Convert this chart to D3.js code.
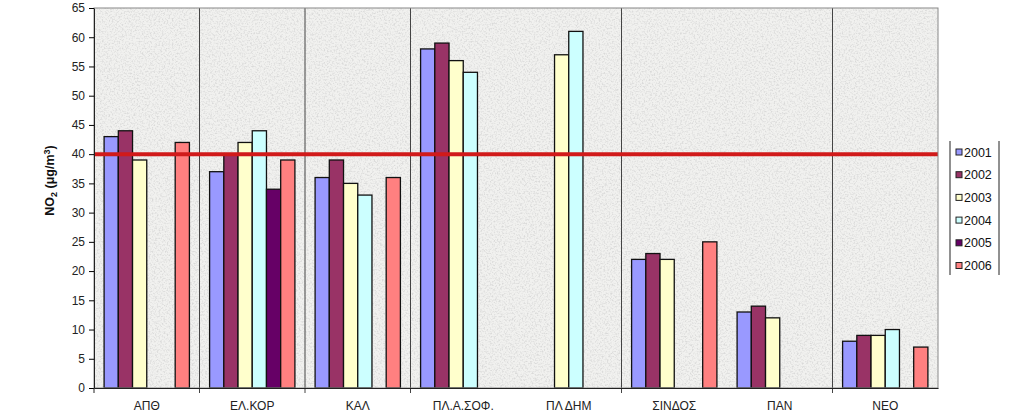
<!DOCTYPE html>
<html>
<head>
<meta charset="utf-8">
<script src="https://cdn.jsdelivr.net/npm/d3@7"></script>
<style>
  body { margin: 0; background: #fff; }
  text { font-family: "Liberation Sans", Arial, sans-serif; }
</style>
</head>
<body>
<div id="chart"></div>
<script>
// stations on the x axis
var stations = ["ΑΠΘ", "ΕΛ.ΚΟΡ", "ΚΑΛ", "ΠΛ.Α.ΣΟΦ.", "ΠΛ ΔΗΜ", "ΣΙΝΔΟΣ", "ΠΑΝ", "ΝΕΟ"];
var years = ["2001", "2002", "2003", "2004", "2005", "2006"];
// yearly NO2 means per station (null = no measurement)
var y2001 = [43, 37, 36, 58, null, 22, 13, 8];
var y2002 = [44, 40, 39, 59, null, 23, 14, 9];
var y2003 = [39, 42, 35, 56, 57, 22, 12, 9];
var y2004 = [null, 44, 33, 54, 61, null, null, 10];
var y2005 = [null, 34, null, null, null, null, null, null];
var y2006 = [42, 39, 36, null, null, 25, null, 7];
var yTicks = [0, 5, 10, 15, 20, 25, 30, 35, 40, 45, 50, 55, 60, 65];
var limitValue = 40;
var colors = ["#9999ff", "#993366", "#ffffcc", "#ccffff", "#660066", "#ff8080"];

var seriesValues = [y2001, y2002, y2003, y2004, y2005, y2006];

var margin = { top: 8, right: 85, bottom: 32, left: 94 },
    totalW = 1023, totalH = 420,
    width = totalW - margin.left - margin.right,
    height = totalH - margin.top - margin.bottom;

var svg = d3.select("#chart").append("svg")
    .attr("width", totalW)
    .attr("height", totalH);

// granite-ish texture for the plot area
var defs = svg.append("defs");
var filt = defs.append("filter").attr("id", "grain")
    .attr("x", 0).attr("y", 0).attr("width", "100%").attr("height", "100%");
filt.append("feTurbulence").attr("type", "fractalNoise")
    .attr("baseFrequency", 0.6).attr("numOctaves", 2).attr("seed", 7).attr("result", "n");
filt.append("feColorMatrix").attr("in", "n").attr("type", "matrix")
    .attr("values", "0 0 0 0 0.6  0 0 0 0 0.6  0 0 0 0 0.6  3 0 0 0 -1.35");

var g = svg.append("g")
    .attr("transform", "translate(" + margin.left + "," + margin.top + ")");

var x0 = d3.scaleBand().domain(stations).range([0, width]).paddingInner(0).paddingOuter(0);
var x1 = d3.scaleBand().domain(years).range([0, x0.bandwidth()]).paddingInner(0).paddingOuter(0.71);
var y = d3.scaleLinear().domain([0, 65]).range([height, 0]);

g.append("rect").attr("width", width).attr("height", height).attr("fill", "#f1f1ef");
g.append("rect").attr("width", width).attr("height", height).attr("filter", "url(#grain)").attr("opacity", 0.6);

// station separators (the original skips a couple of them)
var sepIdx = [1, 2, 3, 5, 7];
g.selectAll(".sep").data(sepIdx).enter().append("line")
    .attr("class", "sep")
    .attr("x1", function (d) { return x0(stations[d]); })
    .attr("x2", function (d) { return x0(stations[d]); })
    .attr("y1", 0).attr("y2", height + 5)
    .attr("stroke", "#444").attr("stroke-width", 1);

// bars
var groups = g.selectAll(".grp").data(stations).enter().append("g")
    .attr("transform", function (d) { return "translate(" + x0(d) + ",0)"; });

groups.selectAll("rect")
    .data(function (d, i) {
        return years.map(function (yr, k) { return { year: yr, k: k, v: seriesValues[k][i] }; })
            .filter(function (e) { return e.v != null; });
    })
    .enter().append("rect")
    .attr("x", function (d) { return x1(d.year); })
    .attr("y", function (d) { return y(d.v); })
    .attr("width", x1.bandwidth())
    .attr("height", function (d) { return height - y(d.v); })
    .attr("fill", function (d) { return colors[d.k]; })
    .attr("stroke", "#111")
    .attr("stroke-width", 1.3);

// limit line
g.append("line")
    .attr("x1", 0).attr("x2", width)
    .attr("y1", y(limitValue)).attr("y2", y(limitValue))
    .attr("stroke", "#d11a1a").attr("stroke-width", 4);

// plot frame
g.append("rect").attr("width", width).attr("height", height)
    .attr("fill", "none").attr("stroke", "#888").attr("stroke-width", 1);

// axes
var yAxis = g.append("g")
    .call(d3.axisLeft(y).tickValues(yTicks).tickSize(5).tickSizeOuter(0));
yAxis.select(".domain").attr("stroke", "#222");
yAxis.selectAll("text").attr("font-size", 12).attr("fill", "#222").attr("dx", "-1");

var xAxis = g.append("g").attr("transform", "translate(0," + height + ")")
    .call(d3.axisBottom(x0).tickSize(0).tickSizeOuter(0).tickPadding(13));
xAxis.select(".domain").attr("stroke", "#222");
xAxis.selectAll("text").attr("font-size", 12).attr("fill", "#222");
xAxis.append("line").attr("x1", 0).attr("x2", 0).attr("y1", 0).attr("y2", 5).attr("stroke", "#222");

// y axis title
var title = svg.append("text")
    .attr("transform", "translate(54," + (margin.top + y(35.5)) + ") rotate(-90)")
    .attr("text-anchor", "middle")
    .attr("font-size", 12.5).attr("font-weight", "bold").attr("fill", "#111");
title.append("tspan").text("NO");
title.append("tspan").attr("font-size", 9).attr("dy", 3).text("2");
title.append("tspan").attr("dy", -3).text(" (μg/m");
title.append("tspan").attr("font-size", 9).attr("dy", -4).text("3");
title.append("tspan").attr("dy", 4).text(")");

// legend
var lg = svg.append("g").attr("transform", "translate(950,141)");
lg.append("line").attr("x1", 0).attr("x2", 0).attr("y1", 0).attr("y2", 134).attr("stroke", "#222");
lg.append("line").attr("x1", 49).attr("x2", 49).attr("y1", 0).attr("y2", 134).attr("stroke", "#222");
var items = lg.selectAll(".li").data(years).enter().append("g")
    .attr("transform", function (d, i) { return "translate(6," + (11 + i * 22.7) + ")"; });
items.append("rect").attr("x", 0).attr("y", -3).attr("width", 6).attr("height", 6)
    .attr("fill", function (d, i) { return colors[i]; })
    .attr("stroke", "#222").attr("stroke-width", 1);
items.append("text").attr("x", 8).attr("y", 4.5).attr("font-size", 12.5).attr("fill", "#111")
    .text(function (d) { return d; });
</script>
</body>
</html>
